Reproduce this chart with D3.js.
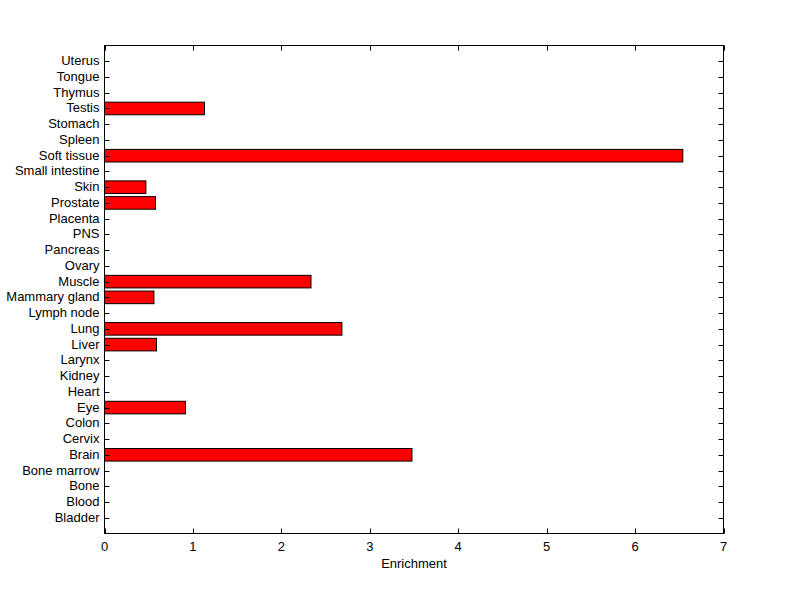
<!DOCTYPE html>
<html><head><meta charset="utf-8">
<script src="https://cdn.jsdelivr.net/npm/d3@7"></script>
<style>body{margin:0;background:#fff}svg{display:block}text{font-family:"Liberation Sans",Arial,sans-serif;font-size:13px;fill:#000}</style>
</head><body>
<script>
const categories = ["Bladder","Blood","Bone","Bone marrow","Brain","Cervix","Colon","Eye","Heart","Kidney","Larynx","Liver","Lung","Lymph node","Mammary gland","Muscle","Ovary","Pancreas","PNS","Placenta","Prostate","Skin","Small intestine","Soft tissue","Spleen","Stomach","Testis","Thymus","Tongue","Uterus"];
const values = [0,0,0,0,3.477,0,0,0.916,0,0,0,0.588,2.685,0,0.559,2.335,0,0,0,0,0.577,0.468,0,6.54,0,0,1.131,0,0,0];
const xTicks = [0,1,2,3,4,5,6,7];
const xLabel = "Enrichment";

const W=800,H=599, L=104.5, R=723.5, T=45.5, B=533.5;
const svg=d3.select("body").append("svg").attr("width",W).attr("height",H);
const x=d3.scaleLinear().domain([0,7]).range([L,R]);
const y=d3.scaleLinear().domain([0,categories.length+1]).range([B,T]);
const bw = 0.8;

svg.append("g").selectAll("rect").data(values.map((v,i)=>({v,i}))).join("rect")
  .filter(d=>d.v>0)
  .attr("x",x(0)).attr("width",d=>x(d.v)-x(0))
  .attr("y",d=>y(d.i+1+bw/2)).attr("height",d=>y(d.i+1-bw/2)-y(d.i+1+bw/2))
  .attr("fill","#ff0000").attr("stroke","#000").attr("stroke-width",1);

svg.append("rect").attr("x",L).attr("y",T).attr("width",R-L).attr("height",B-T)
  .attr("fill","none").attr("stroke","#000").attr("stroke-width",1);

const tl=5;
const yt=svg.append("g");
categories.forEach((c,i)=>{
  const yy=Math.round(y(i+1))+0.5;
  yt.append("line").attr("x1",L).attr("x2",L+tl).attr("y1",yy).attr("y2",yy).attr("stroke","#000");
  yt.append("line").attr("x1",R).attr("x2",R-tl).attr("y1",yy).attr("y2",yy).attr("stroke","#000");
  yt.append("text").attr("x",L-5).attr("y",yy-1).attr("dy","0.35em").attr("text-anchor","end").text(c);
});
const xt=svg.append("g");
xTicks.forEach(t=>{
  const xx=Math.round(x(t))+0.5;
  xt.append("line").attr("x1",xx).attr("x2",xx).attr("y1",B).attr("y2",B-tl).attr("stroke","#000");
  xt.append("line").attr("x1",xx).attr("x2",xx).attr("y1",T).attr("y2",T+tl).attr("stroke","#000");
  xt.append("text").attr("x",x(t)).attr("y",B+17).attr("text-anchor","middle").text(t);
});
svg.append("text").attr("x",(L+R)/2).attr("y",B+34).attr("text-anchor","middle").text(xLabel);
</script>
</body></html>
